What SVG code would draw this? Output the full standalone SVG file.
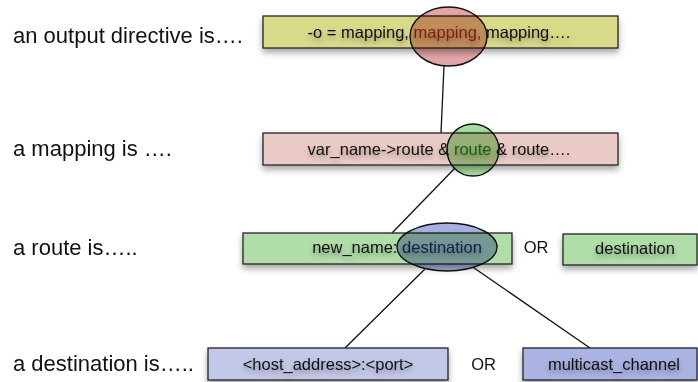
<svg xmlns="http://www.w3.org/2000/svg" width="698" height="382" viewBox="0 0 698 382">
<defs>
<filter id="boxShadow" x="-10%" y="-40%" width="120%" height="200%">
<feDropShadow dx="0" dy="4" stdDeviation="3" flood-color="#000" flood-opacity="0.35"/>
</filter>
<filter id="txtShadow" x="-10%" y="-50%" width="120%" height="220%">
<feDropShadow dx="0" dy="3" stdDeviation="2.5" flood-color="#000" flood-opacity="0.35"/>
</filter>
</defs>
<style>
.lbl{font-family:"Liberation Sans",Arial,sans-serif;font-size:22px;fill:#111}
.bt{font-family:"Liberation Sans",Arial,sans-serif;font-size:16.5px;fill:#111;text-anchor:middle}
.or{font-family:"Liberation Sans",Arial,sans-serif;font-size:16.5px;fill:#111;text-anchor:middle}
.box{stroke:#222;stroke-width:1.3}
.ell{stroke:#111;stroke-width:1.4;mix-blend-mode:multiply}
.con{stroke:#111;stroke-width:1.3;fill:none}
</style>
<rect width="698" height="382" fill="#fff"/>
<g id="labels">
<text class="lbl" x="13" y="42.5">an output directive is….</text>
<text class="lbl" x="13" y="156">a mapping is ….</text>
<text class="lbl" x="13" y="255">a route is…..</text>
<text class="lbl" x="13" y="370.5">a destination is…..</text>
</g>
<g id="connectors">
<line class="con" x1="444" y1="66" x2="441" y2="133"/>
<line class="con" x1="455" y1="168" x2="392" y2="233"/>
<line class="con" x1="425" y1="269" x2="345" y2="348"/>
<line class="con" x1="473.4" y1="267.5" x2="590" y2="348"/>
</g>
<g id="output-directive">
<rect class="box" x="263" y="16" width="355" height="32" fill="#d9d98a" filter="url(#boxShadow)"/>
<text class="bt" x="439" y="38" filter="url(#txtShadow)">-o = mapping, <tspan fill="#8c2e14">mapping,</tspan> mapping….</text>
<ellipse class="ell" cx="448.5" cy="36.5" rx="38.5" ry="29.5" fill="#e2a6a6"/>
</g>
<g id="mapping">
<rect class="box" x="263" y="133" width="355" height="32" fill="#ebcbc6" filter="url(#boxShadow)"/>
<text class="bt" x="439" y="154.5" filter="url(#txtShadow)">var_name-&gt;route &amp; <tspan fill="#1e6e1e">route</tspan> &amp; route….</text>
<circle class="ell" cx="473" cy="150" r="26" fill="#a6dc9c"/>
</g>
<g id="route">
<rect class="box" x="243" y="233" width="269" height="31" fill="#b1dda9" filter="url(#boxShadow)"/>
<text class="bt" x="397" y="253" filter="url(#txtShadow)">new_name: <tspan fill="#1a2c5c">destination</tspan></text>
<ellipse class="ell" cx="447" cy="247" rx="50" ry="24" fill="#a8b0de"/>
</g>
<g id="route-or">
<text class="or" x="536" y="253">OR</text>
</g>
<g id="route-destination">
<rect class="box" x="563" y="234" width="134" height="31" fill="#b1dda9" filter="url(#boxShadow)"/>
<text class="bt" x="635" y="254" filter="url(#txtShadow)">destination</text>
</g>
<g id="host-address">
<rect class="box" x="208" y="348" width="240" height="32" fill="#c3c8e8" filter="url(#boxShadow)"/>
<text class="bt" x="328" y="370" filter="url(#txtShadow)">&lt;host_address&gt;:&lt;port&gt;</text>
</g>
<g id="dest-or">
<text class="or" x="483.5" y="370">OR</text>
</g>
<g id="multicast">
<rect class="box" x="523" y="348" width="174" height="32" fill="#abb3e3" filter="url(#boxShadow)"/>
<text class="bt" x="614" y="370" filter="url(#txtShadow)">multicast_channel</text>
</g>
</svg>
